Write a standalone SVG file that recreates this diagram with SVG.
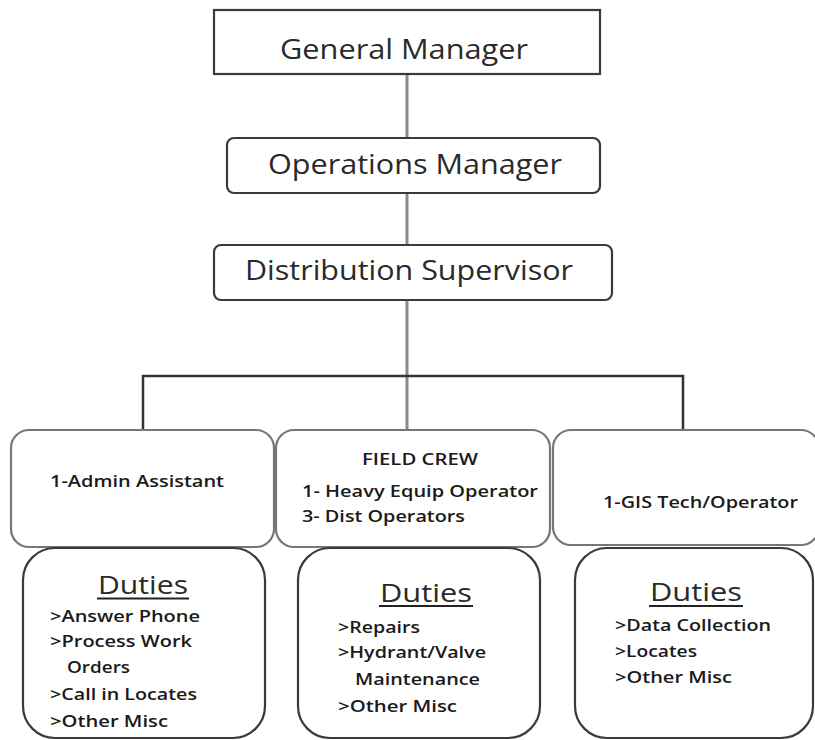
<svg xmlns="http://www.w3.org/2000/svg" width="815" height="740" viewBox="0 0 815 740">
<style>
.box{fill:#fff;stroke:#3a3a3a;stroke-width:2.2}
.conn{fill:none;stroke:#8a8a8a;stroke-width:3}
.big{font-family:"Open Sans","Liberation Sans",sans-serif;font-size:28px;fill:#2a2a2a}
.sm{font-family:"Open Sans","Liberation Sans",sans-serif;font-size:15.5px;font-weight:600;fill:#1a1a1a}
.duty{font-family:"Open Sans","Liberation Sans",sans-serif;font-size:26px;fill:#2a2a2a}
.ul{stroke:#222;stroke-width:2}
</style>
<rect width="815" height="740" fill="#fff"/>
<g id="connectors">
<line class="conn" x1="407" y1="74" x2="407" y2="138"/>
<line class="conn" x1="407" y1="193" x2="407" y2="245"/>
<line class="conn" x1="407" y1="300" x2="407" y2="430"/>
<polyline class="conn" points="143,430 143,376 683,376 683,430" style="stroke:#333;stroke-width:2.5"/>
</g>
<g id="general-manager">
<rect class="box" x="214" y="10" width="386" height="64"/>
<text class="big" x="280" y="59" textLength="248" lengthAdjust="spacingAndGlyphs">General Manager</text>
</g>
<g id="operations-manager">
<rect class="box" x="227" y="138" width="373" height="55" rx="7"/>
<text class="big" x="268" y="174" textLength="294" lengthAdjust="spacingAndGlyphs">Operations Manager</text>
</g>
<g id="distribution-supervisor">
<rect class="box" x="214" y="245" width="398" height="55" rx="7"/>
<text class="big" x="245" y="280" textLength="328" lengthAdjust="spacingAndGlyphs">Distribution Supervisor</text>
</g>
<g id="admin-assistant">
<rect class="box" x="11" y="430" width="263" height="117" rx="18" style="stroke:#777"/>
<text class="sm" x="50" y="487" textLength="174" lengthAdjust="spacingAndGlyphs">1-Admin Assistant</text>
</g>
<g id="field-crew">
<rect class="box" x="276" y="430" width="274" height="117" rx="18" style="stroke:#777"/>
<text class="sm" x="362" y="465" textLength="116" lengthAdjust="spacingAndGlyphs">FIELD CREW</text>
<text class="sm" x="302" y="497" textLength="236" lengthAdjust="spacingAndGlyphs">1- Heavy Equip Operator</text>
<text class="sm" x="302" y="522" textLength="163" lengthAdjust="spacingAndGlyphs">3- Dist Operators</text>
</g>
<g id="gis-tech">
<rect class="box" x="553" y="430" width="266" height="115" rx="18" style="stroke:#777"/>
<text class="sm" x="603" y="508" textLength="195" lengthAdjust="spacingAndGlyphs">1-GIS Tech/Operator</text>
</g>
<g id="duties-admin">
<rect class="box" x="23" y="548" width="242" height="190" rx="32"/>
<text class="duty" x="98" y="594" textLength="90" lengthAdjust="spacingAndGlyphs">Duties</text>
<line class="ul" x1="97" y1="598.5" x2="189" y2="598.5"/>
<text class="sm" x="50" y="622" textLength="150" lengthAdjust="spacingAndGlyphs">&gt;Answer Phone</text>
<text class="sm" x="50" y="647" textLength="142" lengthAdjust="spacingAndGlyphs">&gt;Process Work</text>
<text class="sm" x="67" y="673" textLength="63" lengthAdjust="spacingAndGlyphs">Orders</text>
<text class="sm" x="50" y="700" textLength="147" lengthAdjust="spacingAndGlyphs">&gt;Call in Locates</text>
<text class="sm" x="50" y="727" textLength="118" lengthAdjust="spacingAndGlyphs">&gt;Other Misc</text>
</g>
<g id="duties-field">
<rect class="box" x="298" y="548" width="242" height="190" rx="32"/>
<text class="duty" x="380" y="602" textLength="92" lengthAdjust="spacingAndGlyphs">Duties</text>
<line class="ul" x1="379" y1="606" x2="473" y2="606"/>
<text class="sm" x="338" y="633" textLength="82" lengthAdjust="spacingAndGlyphs">&gt;Repairs</text>
<text class="sm" x="338" y="658" textLength="148" lengthAdjust="spacingAndGlyphs">&gt;Hydrant/Valve</text>
<text class="sm" x="355" y="685" textLength="125" lengthAdjust="spacingAndGlyphs">Maintenance</text>
<text class="sm" x="338" y="712" textLength="119" lengthAdjust="spacingAndGlyphs">&gt;Other Misc</text>
</g>
<g id="duties-gis">
<rect class="box" x="575" y="548" width="238" height="190" rx="32"/>
<text class="duty" x="650" y="601" textLength="92" lengthAdjust="spacingAndGlyphs">Duties</text>
<line class="ul" x1="649" y1="606" x2="743" y2="606"/>
<text class="sm" x="615" y="631" textLength="156" lengthAdjust="spacingAndGlyphs">&gt;Data Collection</text>
<text class="sm" x="615" y="657" textLength="82" lengthAdjust="spacingAndGlyphs">&gt;Locates</text>
<text class="sm" x="615" y="683" textLength="117" lengthAdjust="spacingAndGlyphs">&gt;Other Misc</text>
</g>
</svg>
